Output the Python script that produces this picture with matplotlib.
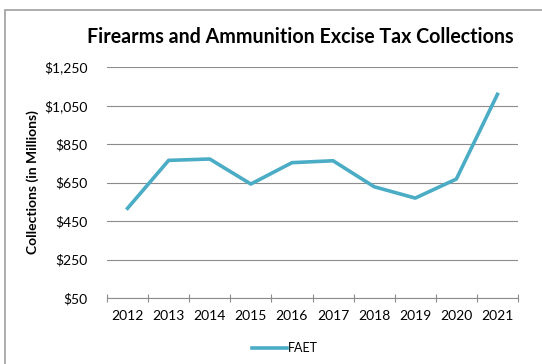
import matplotlib
matplotlib.use("Agg")
import matplotlib.pyplot as plt
from matplotlib.patches import Rectangle
from matplotlib.ticker import FuncFormatter

years = ["2012", "2013", "2014", "2015", "2016", "2017", "2018", "2019", "2020", "2021"]
faet = [516, 765, 772, 642, 753, 763, 628, 569, 668, 1108]
yticks = [50, 250, 450, 650, 850, 1050, 1250]

plt.rcParams['font.family'] = ['Lato', 'DejaVu Sans']

W, H = 542, 364
fig = plt.figure(figsize=(W / 100, H / 100), dpi=100)
fig.patch.set_facecolor('white')

# outer chart border
fig.add_artist(Rectangle((5 / W, -0.05), 2, 1 - 10 / H + 0.05, transform=fig.transFigure,
                         fill=False, edgecolor='#a0a0a0', linewidth=1.2))

ax = fig.add_axes([107 / W, 1 - 298 / H, (518 - 107) / W, (298 - 67) / H])
x = list(range(len(years)))
ax.plot(x, faet, color='#4BACC6', linewidth=2.6, label='FAET', solid_joinstyle='round')

ax.set_xlim(-0.5, len(years) - 0.5)
ax.set_ylim(50, 1250)
ax.set_yticks(yticks)
ax.yaxis.set_major_formatter(FuncFormatter(lambda v, p: "${:,.0f}".format(v)))
ax.grid(axis='y', color='#8c8c8c', linewidth=0.8)
ax.set_axisbelow(True)
for s in ['top', 'right', 'left']:
    ax.spines[s].set_visible(False)
ax.spines['bottom'].set_color('#8c8c8c')
ax.spines['bottom'].set_linewidth(0.8)

ax.set_xticks([i - 0.5 for i in range(len(years) + 1)])
ax.set_xticklabels([])
ax.set_xticks(x, minor=True)
ax.set_xticklabels(years, minor=True, fontsize=10)
ax.tick_params(axis='x', which='major', direction='inout', length=6, color='#8c8c8c', width=0.8)
ax.tick_params(axis='x', which='minor', length=0, pad=9)
ax.tick_params(axis='y', length=0, labelsize=10, pad=14)

ax.set_ylabel('Collections (in Millions)', fontsize=10, fontweight='bold', va='center')
ax.yaxis.set_label_coords((33 - 107) / 411, 0.5)
fig.text(300 / W, 1 - 37 / H, 'Firearms and Ammunition Excise Tax Collections',
         ha='center', va='center', fontsize=14.1, fontweight='bold')

fig.legend(loc='center', bbox_to_anchor=(285 / W, 1 - 348 / H), frameon=False, fontsize=9,
           handlelength=2.8, handletextpad=0.1)

fig.savefig('out.png', dpi=100)
